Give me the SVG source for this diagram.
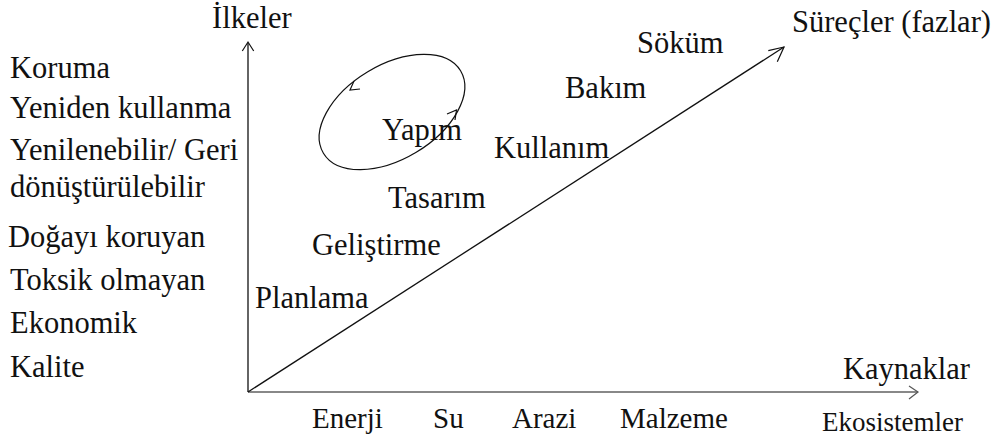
<svg xmlns="http://www.w3.org/2000/svg" width="997" height="441" viewBox="0 0 997 441">
<style>
text{font-family:"Liberation Serif","Times New Roman",serif;fill:#111;font-size:30.5px}
.b{font-size:29px}
.s{font-size:27px}
.ax{stroke:#111;stroke-width:1.3;fill:none}
.hx{stroke:#888;stroke-width:2.2;fill:none}
.ah{stroke:#111;stroke-width:1.2;fill:none}
</style>
<rect width="997" height="441" fill="#fff"/>
<g id="connectors">
<line class="ax" x1="248" y1="392" x2="248" y2="43"/>
<polyline class="ah" points="242.3,51 248,42 253.7,51"/>
<line class="hx" x1="248" y1="392" x2="918" y2="392"/>
<polyline class="ah" points="909,386 918,392 909,399" style="stroke:#555"/>
<line class="ax" x1="248" y1="392" x2="784" y2="47"/>
<polyline class="ah" points="768.3,50.7 784,47 777.3,61.7"/>
<ellipse class="ah" cx="392" cy="112" rx="80" ry="47" transform="rotate(-31 392 112)"/>
<polyline class="ah" points="360,89 350,90 354,81"/>
<polyline class="ah" points="447,114 456.5,110 455,120"/>
</g>
<g id="axis-labels">
<text x="212" y="28">İlkeler</text>
<text x="792" y="32">Süreçler (fazlar)</text>
<text x="843" y="379">Kaynaklar</text>
</g>
<g id="principles">
<text x="10" y="78">Koruma</text>
<text x="10" y="118">Yeniden kullanma</text>
<text x="10" y="160">Yenilenebilir/ Geri</text>
<text x="10" y="197">dönüştürülebilir</text>
<text x="8" y="247">Doğayı koruyan</text>
<text x="10" y="290">Toksik olmayan</text>
<text x="10" y="333">Ekonomik</text>
<text x="10" y="377">Kalite</text>
</g>
<g id="phases">
<text x="255" y="308">Planlama</text>
<text x="312" y="255">Geliştirme</text>
<text x="388" y="208">Tasarım</text>
<text x="382" y="140">Yapım</text>
<text x="494" y="158">Kullanım</text>
<text x="565" y="98">Bakım</text>
<text x="637" y="53">Söküm</text>
</g>
<g id="resources">
<text class="b" x="312" y="428">Enerji</text>
<text class="b" x="433" y="428">Su</text>
<text class="b" x="512" y="428">Arazi</text>
<text class="b" x="620" y="428">Malzeme</text>
<text class="s" x="822" y="431">Ekosistemler</text>
</g>
</svg>
